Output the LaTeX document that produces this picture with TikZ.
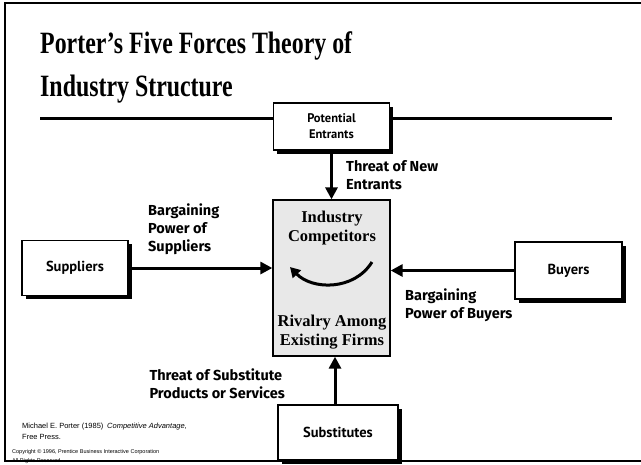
\documentclass[tikz,border=0pt]{standalone}
\usepackage{fontspec}
\setmainfont{Liberation Serif}
\newfontfamily\labfont{Fira Sans}
\newfontfamily\boxfont{PT Sans}
\newfontfamily\notefont{Liberation Sans}
\usetikzlibrary{arrows.meta,shadows}

\begin{document}
\begin{tikzpicture}[x=1pt,y=-1pt,
  forcebox/.style={draw=black,line width=1.3pt,fill=white,rectangle,inner sep=0pt,align=center,
    drop shadow={shadow xshift=3.5pt,shadow yshift=-3.5pt,fill=black,opacity=1},
    font=\boxfont\bfseries\fontsize{14.5}{16}\selectfont},
  force/.style={line width=3pt,-{Triangle[length=12pt,width=12pt]}},
  lbl/.style={font=\labfont\bfseries\fontsize{14.5}{18}\selectfont,align=left,inner sep=0pt},
  titletext/.style={font=\bfseries\fontsize{31}{36}\selectfont,inner sep=0pt,anchor=base west},
  coretext/.style={font=\bfseries\fontsize{16.5}{19.5}\selectfont,align=center,inner sep=0pt},
  note/.style={font=\notefont\fontsize{7.5}{11}\selectfont,inner sep=0pt,anchor=base west},
]
\useasboundingbox (0,0) rectangle (641,464);

% heading
\node[titletext] (t1) at (40,53) {\scalebox{0.77}[1]{Porter’s Five Forces Theory of}};
\node[titletext] (t2) at (40,96) {\scalebox{0.77}[1]{Industry Structure}};
\draw[line width=3pt] (40,118) coordinate (r1) -- (612,118) coordinate (r2);

% the five forces
\node[forcebox,minimum width=116pt,minimum height=47pt,font=\boxfont\bfseries\fontsize{12.5}{16}\selectfont] (pe) at (331.5,126.5) {Potential\\Entrants};
\node[draw=black,line width=1.3pt,fill=gray!18,minimum width=117pt,minimum height=156pt] (cb) at (331.5,278) {};
\node[forcebox,minimum width=106pt,minimum height=55pt] (sup) at (75,268) {Suppliers};
\node[forcebox,minimum width=107pt,minimum height=57pt] (buy) at (568.5,270.5) {Buyers};
\node[forcebox,minimum width=120pt,minimum height=55pt] (sub) at (338,432.5) {Substitutes};

% text inside the industry box
\node[coretext] (ic) at (332,228) {Industry\\Competitors};
\node[coretext] (rf) at (332,332) {Rivalry Among\\Existing Firms};
\coordinate (ra) at (372,262);
\coordinate (rb) at (290,267);
\draw[line width=3pt,-{Triangle[length=10pt,width=11pt]}] (ra) .. controls (354,291) and (312,290) .. (rb);

% arrows
\draw[force] (pe.south) -- (pe.south |- cb.north);
\draw[force] (sup.east) -- (sup.east -| cb.west);
\draw[force] (buy.west) -- (buy.west -| cb.east);
\draw[force] ([xshift=-3pt]sub.north) -- ([xshift=-3pt]sub.north |- cb.south);

% arrow labels
\node[lbl,anchor=north west] (lpe) at (346,160) {Threat of New\\Entrants};
\node[lbl,anchor=north west] (lsup) at (148,204) {Bargaining\\Power of\\Suppliers};
\node[lbl,anchor=north west] (lbuy) at (405,289) {Bargaining\\Power of Buyers};
\node[lbl,anchor=north east] (lsub) at (285,369) {Threat of Substitute\\Products or Services};

% source notes
\node[note] (n1) at (22,428) {Michael E. Porter (1985)\enspace\textit{Competitive Advantage,}};
\node[note] (n2) at (22,439) {Free Press.};
\node[note,font=\notefont\fontsize{5.5}{7}\selectfont] (n3) at (12,453) {Copyright © 1996, Prentice Business Interactive Corporation};
\node[note,font=\notefont\fontsize{5.5}{7}\selectfont] (n4) at (12,462) {All Rights Reserved};

% frame
\draw[line width=2pt] (641,3) -- (5,3) -- (5,461) -- (641,461);
\end{tikzpicture}
\end{document}
